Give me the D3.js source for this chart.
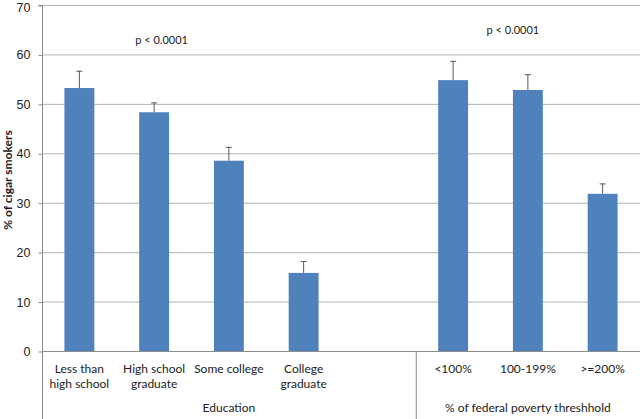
<!DOCTYPE html>
<html><head><meta charset="utf-8">
<script src="https://cdn.jsdelivr.net/npm/d3@7"></script>
<style>body{margin:0;background:#fff;} svg{display:block;font-family:Lato,"Open Sans","Liberation Sans",sans-serif;}</style>
</head><body>
<svg id="c" width="640" height="419"></svg>
<script>
const categories = ["Less than|high school","High school|graduate","Some college","College|graduate","","<100%","100-199%",">=200%"];
const values = [53.2, 48.3, 38.5, 15.8, null, 54.8, 52.8, 31.8];
const errorTops = [56.7, 50.3, 41.3, 18.2, null, 58.7, 56.0, 33.9];
const groups = [{name:"Education", from:0, to:4}, {name:"% of federal poverty threshhold", from:5, to:7}];
const pLabels = [{text:"p < 0.0001", at:1.1, y:63}, {text:"p < 0.0001", at:5.8, y:65}];
const yTicks = [0,10,20,30,40,50,60,70];

const svg = d3.select("#c");
const L = 42, R = 640, T = 5, B = 351;
const x = d3.scaleBand().domain(d3.range(categories.length)).range([L, R]).paddingInner(0.6).paddingOuter(0.3);
const slot = d3.scaleBand().domain(d3.range(categories.length)).range([L, R]);
const y = d3.scaleLinear().domain([0,70]).range([B, T]);

svg.append("g").selectAll("line").data(yTicks.filter(d=>d>0)).join("line")
  .attr("x1", L).attr("x2", R).attr("y1", d=>y(d)+0.5).attr("y2", d=>y(d)+0.5)
  .attr("stroke", "#b3b3b3").attr("stroke-width", 1);

const ya = d3.axisLeft(y).tickValues(yTicks).tickSize(4).tickPadding(8);
const yg = svg.append("g").attr("transform", `translate(${L+0.5},0.5)`).call(ya);
yg.select(".domain").attr("stroke", "#8c8c8c").attr("d", `M-4,${T}H0V419`);
yg.selectAll(".tick line").attr("stroke", "#8c8c8c");
yg.selectAll(".tick text").attr("font-size", 12.5).attr("fill", "#222")
  .attr("dy", d => d === 70 ? "0.45em" : "0.32em");

svg.append("line").attr("x1", L).attr("x2", R).attr("y1", B+0.5).attr("y2", B+0.5).attr("stroke", "#8c8c8c");
svg.append("line").attr("x1", slot(5)+0.5).attr("x2", slot(5)+0.5).attr("y1", B).attr("y2", 419).attr("stroke", "#8c8c8c");

const idx = d3.range(categories.length).filter(i => values[i] !== null);
const eg = svg.append("g").attr("stroke", "#595959").attr("stroke-width", 1);
eg.selectAll("line.v").data(idx).join("line").attr("class","v")
  .attr("x1", i=>x(i)+x.bandwidth()/2).attr("x2", i=>x(i)+x.bandwidth()/2)
  .attr("y1", i=>y(values[i])).attr("y2", i=>y(errorTops[i]));
eg.selectAll("line.c").data(idx).join("line").attr("class","c")
  .attr("x1", i=>x(i)+x.bandwidth()/2-3).attr("x2", i=>x(i)+x.bandwidth()/2+3)
  .attr("y1", i=>y(errorTops[i])+0.5).attr("y2", i=>y(errorTops[i])+0.5);

svg.append("g").selectAll("rect").data(idx).join("rect")
  .attr("x", i=>x(i)).attr("width", x.bandwidth())
  .attr("y", i=>y(values[i])).attr("height", i=>y(0)-y(values[i]))
  .attr("fill", "#4f81bd");

const cl = svg.append("g").attr("font-size", 12).attr("fill", "#222").attr("text-anchor", "middle");
categories.forEach((c,i) => {
  if (!c) return;
  c.split("|").forEach((line,k) => {
    cl.append("text").attr("x", slot(i)+slot.bandwidth()/2).attr("y", 373 + k*15).text(line);
  });
});
groups.forEach(g => {
  const cx = (slot(g.from) + slot(g.to) + slot.bandwidth())/2;
  svg.append("text").attr("x", cx).attr("y", 412).attr("text-anchor","middle").attr("font-size",12).attr("fill","#222").text(g.name);
});
pLabels.forEach(p => {
  svg.append("text").attr("x", slot(0) + slot.step()*(p.at+0.5)).attr("y", y(p.y)+4)
    .attr("text-anchor","middle").attr("font-size",11).attr("fill","#222").text(p.text);
});
svg.append("text").attr("transform", `translate(12,${(T+B)/2+2}) rotate(-90)`).attr("text-anchor","middle")
  .attr("font-size", 12).attr("font-weight","bold").attr("fill","#222").text("% of cigar smokers");
</script>
</body></html>
